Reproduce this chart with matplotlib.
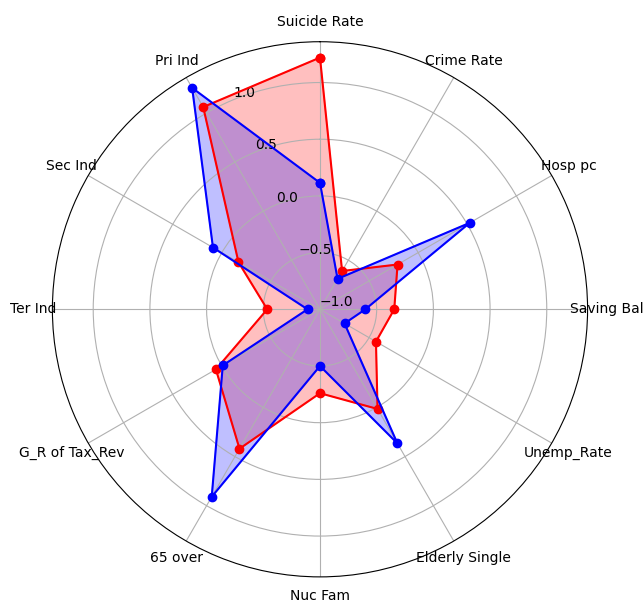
import numpy as np
import matplotlib
matplotlib.use('Agg')
import matplotlib.pyplot as plt

# categories listed counter-clockwise starting from the top
labels = ['Suicide Rate', 'Pri Ind', 'Sec Ind', 'Ter Ind', 'G_R of Tax_Rev', '65 over',
          'Nuc Fam', 'Elderly Single', 'Unemp_Rate', 'Saving Bal', 'Hosp pc', 'Crime Rate']

# standardized indicator values for the two regions
red_vals = [1.22, 1.06, -0.17, -0.535, 0.06, 0.42,
            -0.26, 0.015, -0.43, -0.345, -0.21, -0.61]
blue_vals = [0.115, 1.255, 0.09, -0.89, -0.01, 0.91,
             -0.50, 0.365, -0.75, -0.60, 0.525, -0.69]

n = len(labels)
angles = np.linspace(0, 2 * np.pi, n, endpoint=False)
angles_closed = np.concatenate([angles, angles[:1]])

def close(vals):
    return np.concatenate([vals, vals[:1]])

fig = plt.figure(figsize=(6.43, 6.0), dpi=100)
ax = fig.add_axes([0.0815, 0.0385, 0.8323, 0.892], polar=True)
ax.set_theta_offset(np.pi / 2)

ax.plot(angles_closed, close(red_vals), 'o-', color='r', lw=1.5)
ax.fill(angles_closed, close(red_vals), color='r', alpha=0.25)
ax.plot(angles_closed, close(blue_vals), 'o-', color='b', lw=1.5)
ax.fill(angles_closed, close(blue_vals), color='b', alpha=0.25)

ax.set_thetagrids(np.degrees(angles), labels)
ax.set_ylim(-1.0, 1.36)
ax.set_yticks([-1.0, -0.5, 0.0, 0.5, 1.0])

fig.savefig('out.png', dpi=100)
